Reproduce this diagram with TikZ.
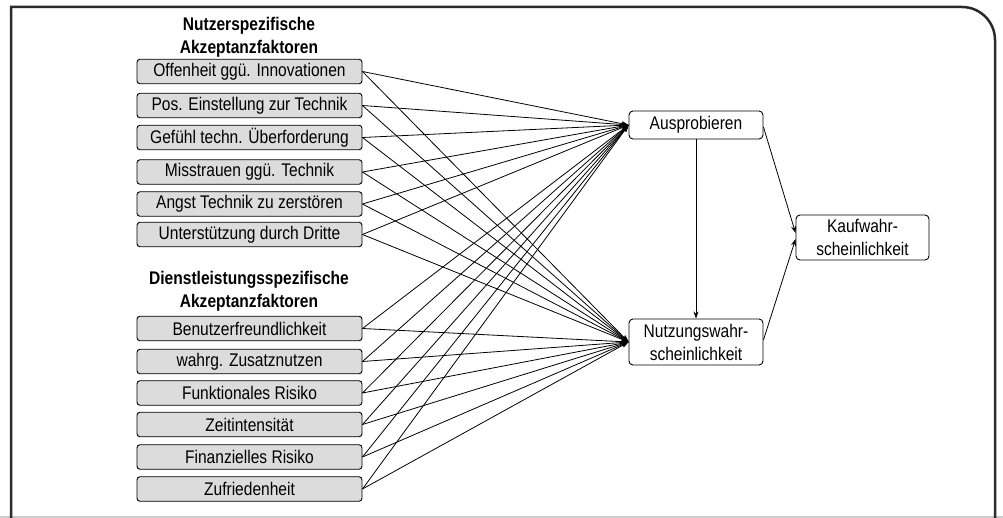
\documentclass[tikz,border=0pt]{standalone}
\usepackage{fontspec}
\setmainfont{Liberation Sans}[FakeStretch=0.85]
\usetikzlibrary{arrows.meta}
\definecolor{boxfill}{HTML}{DCDCDC}
\definecolor{framecol}{HTML}{2A2A2A}
\begin{document}
\begin{tikzpicture}[x=1pt,y=-1pt,
  factor/.style={draw=black, line width=0.9pt, fill=boxfill, rounded corners=3pt,
    minimum width=225pt, minimum height=24.5pt, inner sep=0pt,
    font=\fontsize{18.3}{23}\selectfont},
  target/.style={draw=black, line width=0.9pt, fill=white, rounded corners=4pt,
    minimum width=134pt, inner sep=0pt, align=center,
    font=\fontsize{18.3}{23}\selectfont},
  grouptitle/.style={align=center, font=\bfseries\fontsize{18.3}{23}\selectfont},
  link/.style={line width=0.8pt, -{Stealth[length=7pt,width=5pt]}},
  frameline/.style={line width=2.5pt, draw=framecol}
]
\useasboundingbox (0,0) rectangle (1003,518);
\draw[gray!40, line width=2pt] (0,517) -- (1003,517);
\draw[frameline] (11,522) -- (11,7) -- (962,7) arc[start angle=-90, end angle=0, radius=33] -- (995,522);

\node[grouptitle] (t1) at (249,37.5) {Nutzerspezifische\\Akzeptanzfaktoren};
\node[factor] (f1) at (249.5,71.5) {Offenheit ggü. Innovationen};
\node[factor] (f2) at (249.5,105.5) {Pos. Einstellung zur Technik};
\node[factor] (f3) at (249.5,137.5) {Gefühl techn. Überforderung};
\node[factor] (f4) at (249.5,172) {Misstrauen ggü. Technik};
\node[factor] (f5) at (249.5,204) {Angst Technik zu zerstören};
\node[factor] (f6) at (249.5,234.5) {Unterstützung durch Dritte};

\node[grouptitle] (t2) at (249,291.5) {Dienstleistungsspezifische\\Akzeptanzfaktoren};
\node[factor] (d1) at (249.5,328.5) {Benutzerfreundlichkeit};
\node[factor] (d2) at (249.5,361.5) {wahrg. Zusatznutzen};
\node[factor] (d3) at (249.5,393) {Funktionales Risiko};
\node[factor] (d4) at (249.5,424.5) {Zeitintensität};
\node[factor] (d5) at (249.5,457) {Finanzielles Risiko};
\node[factor] (d6) at (249.5,489) {Zufriedenheit};

\node[target, minimum height=28pt] (A) at (696,125) {Ausprobieren};
\node[target, minimum height=46pt] (N) at (696,342) {Nutzungswahr-\\scheinlichkeit};
\node[target, minimum height=45pt, minimum width=133pt] (K) at (862.5,237.5) {Kaufwahr-\\scheinlichkeit};

\foreach \s in {f1,f2,f3,f4,f5,f6,d1,d2,d3,d4,d5,d6} {
  \draw[link] (\s.east) -- (A.west);
  \draw[link] (\s.east) -- (N.west);
}
\draw[link] (A.south) -- (N.north);
\draw[link] ([yshift=-2pt]A.east) -- ([yshift=4.5pt]K.west);
\draw[link] ([yshift=2pt]N.east) -- ([yshift=-1.5pt]K.west);
\end{tikzpicture}
\end{document}
